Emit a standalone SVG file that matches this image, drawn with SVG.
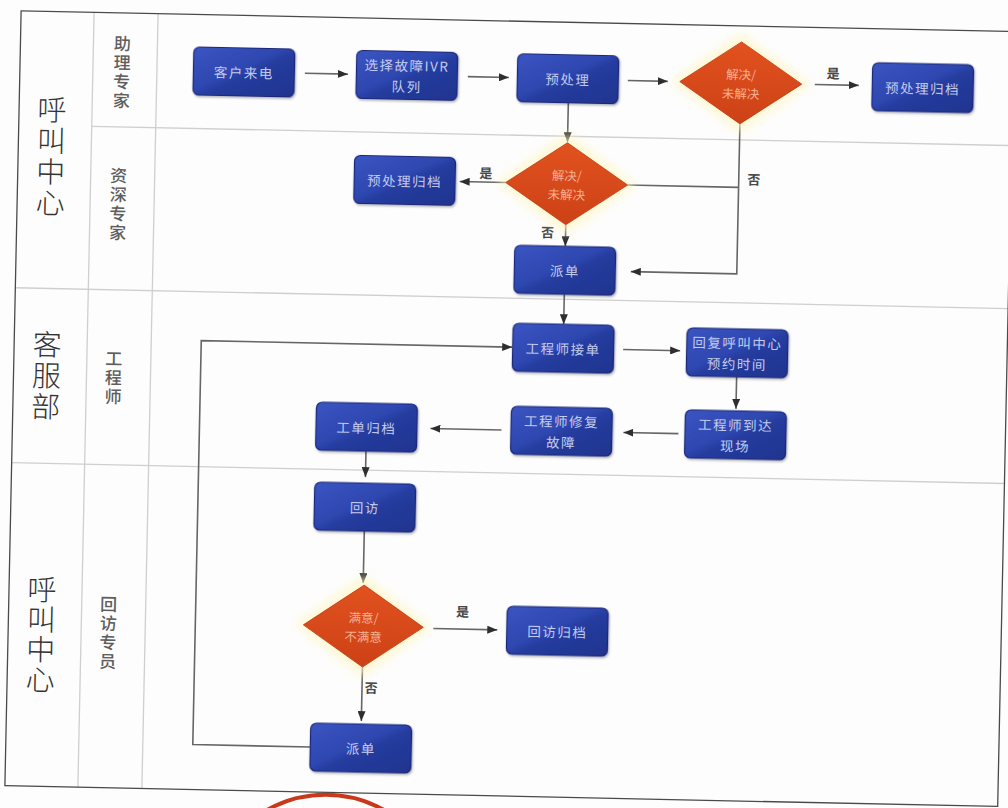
<svg xmlns="http://www.w3.org/2000/svg" width="1008" height="808" viewBox="0 0 1008 808">
<style>
.frame{fill:none;stroke:#4a4a4a;stroke-width:1.3}
.lane{stroke:#cfcfcf;stroke-width:1.3;fill:none}
.box{fill:url(#gBox);stroke:#1b2778;stroke-width:1.2;filter:url(#shadow)}
.dia{fill:url(#gDia);stroke:#c23a12;stroke-width:0.8}
.glow{fill:#fff6c4;opacity:0.7;filter:url(#blur)}
.bt{font-family:"Noto Sans CJK SC","Liberation Sans",sans-serif;font-size:13.5px;fill:#c3cbee;text-anchor:middle;dominant-baseline:central;letter-spacing:1.5px}
.dt{font-family:"Noto Sans CJK SC","Liberation Sans",sans-serif;font-size:12.5px;fill:#f6b090;text-anchor:middle;dominant-baseline:central}
.lbl{font-family:"Noto Sans CJK SC",sans-serif;font-size:13px;font-weight:bold;fill:#484848;text-anchor:middle;dominant-baseline:central}
.dept{font-family:"Noto Sans CJK SC",sans-serif;font-size:29px;font-weight:300;fill:#333;text-anchor:middle;dominant-baseline:central}
.role{font-family:"Noto Sans CJK SC",sans-serif;font-size:17px;font-weight:500;fill:#5e5e5e;text-anchor:middle;dominant-baseline:central}
.cn{fill:none;stroke:#666;stroke-width:1.6}
.ca{fill:none;stroke:#666;stroke-width:1.6;marker-end:url(#ah)}
</style>
<defs>
<linearGradient id="gBox" x1="0" y1="0" x2="1" y2="1">
<stop offset="0" stop-color="#3b55c2"/>
<stop offset="0.45" stop-color="#2e47b0"/>
<stop offset="0.55" stop-color="#253c9e"/>
<stop offset="1" stop-color="#1f348f"/>
</linearGradient>
<linearGradient id="gDia" x1="0" y1="0" x2="0" y2="1">
<stop offset="0" stop-color="#e2521f"/>
<stop offset="1" stop-color="#cc4116"/>
</linearGradient>
<filter id="blur" x="-40%" y="-40%" width="180%" height="180%"><feGaussianBlur stdDeviation="5"/></filter>
<filter id="shadow" x="-10%" y="-10%" width="125%" height="135%"><feDropShadow dx="1" dy="1.5" stdDeviation="1.2" flood-color="#000" flood-opacity="0.3"/></filter>
<marker id="ah" markerWidth="10" markerHeight="8" refX="10" refY="4" orient="auto" markerUnits="userSpaceOnUse"><path d="M0,0 L10,4 L0,8 z" fill="#2e2e2e"/></marker>
</defs>
<rect width="1008" height="808" fill="#fdfdfd"/>
<g transform="rotate(1.2 504 404)">
<g id="lanes">
<line class="lane" x1="86" y1="21" x2="86" y2="796"/>
<line class="lane" x1="150" y1="21" x2="150" y2="796"/>
<line class="lane" x1="86" y1="135" x2="1006" y2="135"/>
<line class="lane" x1="13" y1="298" x2="1006" y2="298"/>
<line class="lane" x1="13" y1="473" x2="1006" y2="473"/>
<rect class="frame" x="13" y="21" width="993" height="775"/>
</g>
<g id="lane-labels">
<text class="dept" x="46"><tspan x="46" y="117">呼</tspan><tspan x="46" y="148">叫</tspan><tspan x="46" y="179">中</tspan><tspan x="46" y="210">心</tspan></text>
<text class="dept" x="46"><tspan x="46" y="352">客</tspan><tspan x="46" y="383">服</tspan><tspan x="46" y="414">部</tspan></text>
<text class="dept" x="46"><tspan x="46" y="597">呼</tspan><tspan x="46" y="627">叫</tspan><tspan x="46" y="657">中</tspan><tspan x="46" y="687">心</tspan></text>
<text class="role"><tspan x="115" y="50">助</tspan><tspan x="115" y="69">理</tspan><tspan x="115" y="88">专</tspan><tspan x="115" y="107">家</tspan></text>
<text class="role"><tspan x="114" y="182">资</tspan><tspan x="114" y="201">深</tspan><tspan x="114" y="220">专</tspan><tspan x="114" y="239">家</tspan></text>
<text class="role"><tspan x="113" y="365">工</tspan><tspan x="113" y="384">程</tspan><tspan x="113" y="403">师</tspan></text>
<text class="role"><tspan x="113" y="611">回</tspan><tspan x="113" y="630">访</tspan><tspan x="113" y="649">专</tspan><tspan x="113" y="668">员</tspan></text>
</g>
<g id="connectors">
<path class="ca" d="M298,77.5 H341"/>
<path class="ca" d="M461,77.5 H502"/>
<path class="ca" d="M621,78 H661"/>
<path class="ca" d="M808,78 H852"/>
<path class="ca" d="M562,101.5 V141"/>
<path class="ca" d="M501,182.5 H455"/>
<path class="ca" d="M562,223.5 V245"/>
<path class="ca" d="M734,119 V269 H628"/>
<path class="cn" d="M623,182.5 H734"/>
<path class="ca" d="M562,293 V323"/>
<path class="ca" d="M318,751 H200 V347 H511"/>
<path class="ca" d="M622,347 H679"/>
<path class="ca" d="M736,372 V404"/>
<path class="ca" d="M679,430 H624"/>
<path class="ca" d="M502,430 H431"/>
<path class="ca" d="M367,454 V480"/>
<path class="ca" d="M367,534 V586"/>
<path class="ca" d="M438,630 H502"/>
<path class="ca" d="M368,670 V724"/>
<text class="lbl" x="826" y="66">是</text>
<text class="lbl" x="481" y="173">是</text>
<text class="lbl" x="544" y="231">否</text>
<text class="lbl" x="749" y="174">否</text>
<text class="lbl" x="467" y="612">是</text>
<text class="lbl" x="377" y="690">否</text>
</g>
<g id="n1"><rect class="box" x="186.5" y="53.5" width="101" height="48" rx="6"/><text class="bt" x="237" y="77.5">客户来电</text></g>
<g id="n2"><rect class="box" x="349.5" y="53.5" width="101" height="48" rx="6"/><text class="bt" x="400" y="67">选择故障IVR</text><text class="bt" x="400" y="88">队列</text></g>
<g id="n3"><rect class="box" x="510.5" y="53.5" width="101" height="48" rx="6"/><text class="bt" x="561" y="77.5">预处理</text></g>
<g id="d1"><polygon class="glow" points="734,28 804,78 734,128 664,78"/><polygon class="dia" points="734,37 795,78 734,119 673,78"/><text class="dt" x="734" y="69">解决/</text><text class="dt" x="734" y="88">未解决</text></g>
<g id="n4"><rect class="box" x="865.5" y="55" width="101" height="48" rx="6"/><text class="bt" x="916" y="79">预处理归档</text></g>
<g id="n5"><rect class="box" x="349.5" y="158.5" width="101" height="48" rx="6"/><text class="bt" x="400" y="182.5">预处理归档</text></g>
<g id="d2"><polygon class="glow" points="562,132 632,182.5 562,233 492,182.5"/><polygon class="dia" points="562,141.5 623,182.5 562,223.5 501,182.5"/><text class="dt" x="562" y="173.5">解决/</text><text class="dt" x="562" y="192.5">未解决</text></g>
<g id="n6"><rect class="box" x="511.5" y="245" width="101" height="48" rx="6"/><text class="bt" x="562" y="269">派单</text></g>
<g id="n7"><rect class="box" x="511.5" y="323" width="101" height="48" rx="6"/><text class="bt" x="562" y="347">工程师接单</text></g>
<g id="n8"><rect class="box" x="685.5" y="324" width="101" height="48" rx="6"/><text class="bt" x="736" y="337.5">回复呼叫中心</text><text class="bt" x="736" y="358.5">预约时间</text></g>
<g id="n9"><rect class="box" x="685.5" y="406" width="101" height="48" rx="6"/><text class="bt" x="736" y="419.5">工程师到达</text><text class="bt" x="736" y="440.5">现场</text></g>
<g id="n10"><rect class="box" x="511.5" y="406" width="101" height="48" rx="6"/><text class="bt" x="562" y="419.5">工程师修复</text><text class="bt" x="562" y="440.5">故障</text></g>
<g id="n11"><rect class="box" x="316.5" y="406" width="101" height="48" rx="6"/><text class="bt" x="367" y="430">工单归档</text></g>
<g id="n12"><rect class="box" x="316.5" y="486" width="101" height="48" rx="6"/><text class="bt" x="367" y="510">回访</text></g>
<g id="d3"><polygon class="glow" points="368,578 437,629 368,680 299,629"/><polygon class="dia" points="368,588 428,629 368,670 308,629"/><text class="dt" x="368" y="620">满意/</text><text class="dt" x="368" y="639">不满意</text></g>
<g id="n13"><rect class="box" x="511.5" y="606" width="101" height="48" rx="6"/><text class="bt" x="562" y="630">回访归档</text></g>
<g id="n14"><rect class="box" x="317.5" y="727" width="101" height="48" rx="6"/><text class="bt" x="368" y="751">派单</text></g>
</g>
<path d="M267,810 A120,120 0 0 1 384,810" fill="none" stroke="#c8391c" stroke-width="4"/>
</svg>
